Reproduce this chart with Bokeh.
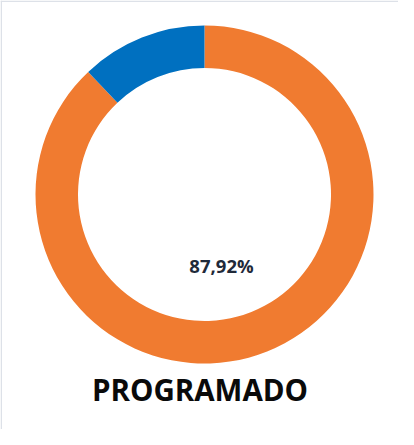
import math
from bokeh.plotting import figure
from bokeh.models import Range1d, Span
from bokeh.core.properties import value
from bokeh.embed import file_html
from bokeh.resources import INLINE

# data
labels = ["Programado", "Resto"]
percents = [87.92, 12.08]
colors = ["#F07B30", "#0070C0"]
center_label = "87,92%"
title_text = "PROGRAMADO"

W, H = 398, 429
p = figure(width=W, height=H, output_backend="svg", toolbar_location=None,
           x_range=Range1d(0, W), y_range=Range1d(0, H), min_border=0,
           match_aspect=False)
p.axis.visible = False
p.grid.visible = False
p.outline_line_color = None
p.background_fill_color = "white"
p.border_fill_color = "white"

cx, cy = 204, 235
r_in, r_out = 126.5, 169

# slices: start at 12 o'clock, orange goes clockwise
total = sum(percents)
blue_angle = percents[1] / total * 2 * math.pi
start_top = math.pi / 2
p.annular_wedge(x=cx, y=cy, inner_radius=r_in, outer_radius=r_out,
                start_angle=start_top + blue_angle, end_angle=start_top + 2 * math.pi,
                direction="anticlock", fill_color=colors[0], line_color=None)
p.annular_wedge(x=cx, y=cy, inner_radius=r_in, outer_radius=r_out,
                start_angle=start_top, end_angle=start_top + blue_angle,
                direction="anticlock", fill_color=colors[1], line_color=None)

p.text(x=[221], y=[164], text=[center_label], text_font=value("Open Sans"),
       text_font_style="bold", text_font_size="18.5px", text_color="#1F2A3A",
       text_align="center", text_baseline="middle")
p.text(x=[199.5], y=[40], text=[title_text], text_font=value("Open Sans"),
       text_font_style="bold", text_font_size="29.5px", text_color="#0A0A0A",
       text_align="center", text_baseline="middle")

p.add_layout(Span(location=0.75, dimension="height", line_color="#DDE1E8", line_width=1.5))
p.add_layout(Span(location=H - 0.75, dimension="width", line_color="#DDE1E8", line_width=1.5))

open("out.html", "w").write(file_html(p, INLINE))
